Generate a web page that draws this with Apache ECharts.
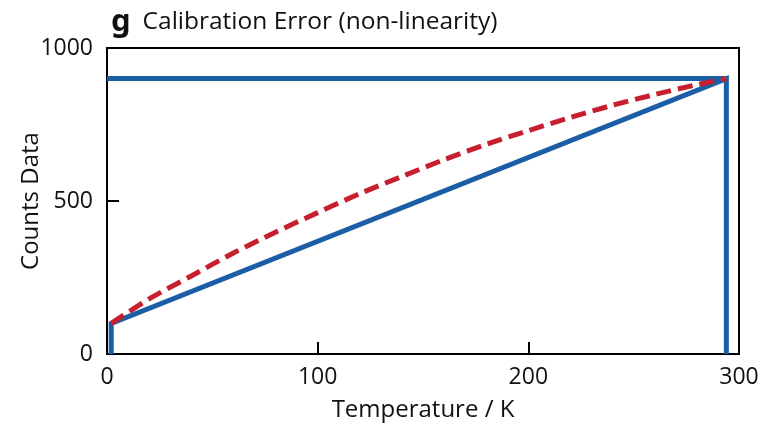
<!DOCTYPE html>
<html>
<head>
<meta charset="utf-8">
<script src="https://cdn.jsdelivr.net/npm/echarts@6/dist/echarts.min.js"></script>
<style>
  html, body { margin: 0; padding: 0; background: #fff; }
</style>
</head>
<body>
<div id="chart" style="width: 762px;height:435px;"></div>
<script>
// ideal linear calibration (blue): foot, linear segment, right drop
var linearX = [2, 2, 294, 294];
var linearY = [0, 100, 900, 0];
// reference level line at top
var levelX = [0, 294];
var levelY = [900, 900];
// measured non-linear response (red dashed)
var curveX = [2, 20, 40, 60, 80, 100, 120, 140, 160, 180, 200, 220, 240, 260, 280, 294];
var curveY = [100, 180, 255, 330, 398, 462, 524, 580, 635, 685, 730, 773, 813, 848, 880, 900];

var xTicks = [0, 100, 200, 300];
var yTicks = [0, 500, 1000];

function zip(xs, ys) {
  return xs.map(function (x, i) { return [x, ys[i]]; });
}

var blue = "#1c5ea6";
var red = "#c81f30";
var font = "Open Sans";

var myChart = echarts.init(document.getElementById("chart"));

var option = {
  animation: false,
  title: {
    text: "{g|g}{t|Calibration Error (non-linearity)}",
    left: 106,
    top: 2,
    textStyle: {
      fontWeight: "normal",
      rich: {
        g: { fontFamily: "Noto Sans", fontSize: 31, fontWeight: "bold", color: "#111", padding: [0, 12, 0, 0] },
        t: { fontFamily: font, fontSize: 24.5, fontWeight: "normal", color: "#111" }
      }
    }
  },
  grid: {
    left: 107,
    right: 23,
    top: 48,
    bottom: 81,
    outerBoundsMode: "none",
    containLabel: false,
    show: true,
    borderColor: "#000",
    borderWidth: 2,
    backgroundColor: "transparent"
  },
  xAxis: {
    type: "value",
    min: xTicks[0],
    max: xTicks[xTicks.length - 1],
    interval: 100,
    name: "Temperature / K",
    nameLocation: "middle",
    nameGap: 44,
    nameMoveOverlap: false,
    nameTextStyle: { fontFamily: font, fontSize: 24, color: "#111" },
    axisLine: { show: true, lineStyle: { color: "#000", width: 2 } },
    axisTick: { show: true, inside: true, length: 12, lineStyle: { color: "#000", width: 2 } },
    axisLabel: { fontFamily: font, fontSize: 23, color: "#111", margin: 12 },
    splitLine: { show: false }
  },
  yAxis: {
    type: "value",
    min: yTicks[0],
    max: yTicks[yTicks.length - 1],
    interval: 500,
    name: "Counts Data",
    nameLocation: "middle",
    nameGap: 64,
    nameMoveOverlap: false,
    nameTextStyle: { fontFamily: font, fontSize: 24, color: "#111" },
    axisLine: { show: true, lineStyle: { color: "#000", width: 2 } },
    axisTick: { show: true, inside: true, length: 12, lineStyle: { color: "#000", width: 2 } },
    axisLabel: { fontFamily: font, fontSize: 23, color: "#111", margin: 14, formatter: function (v) { return String(v); } },
    splitLine: { show: false }
  },
  series: [
    {
      type: "line",
      data: zip(levelX, levelY),
      symbol: "none",
      clip: false,
      lineStyle: { color: blue, width: 5, cap: "butt" }
    },
    {
      type: "line",
      data: zip(linearX, linearY),
      symbol: "none",
      clip: false,
      lineStyle: { color: blue, width: 5, join: "miter", cap: "butt" }
    },
    {
      type: "line",
      data: zip(curveX, curveY),
      symbol: "none",
      smooth: 0.3,
      clip: false,
      lineStyle: { color: red, width: 5, type: [15, 7], cap: "butt" }
    }
  ]
};
myChart.setOption(option);
</script>
</body>
</html>
